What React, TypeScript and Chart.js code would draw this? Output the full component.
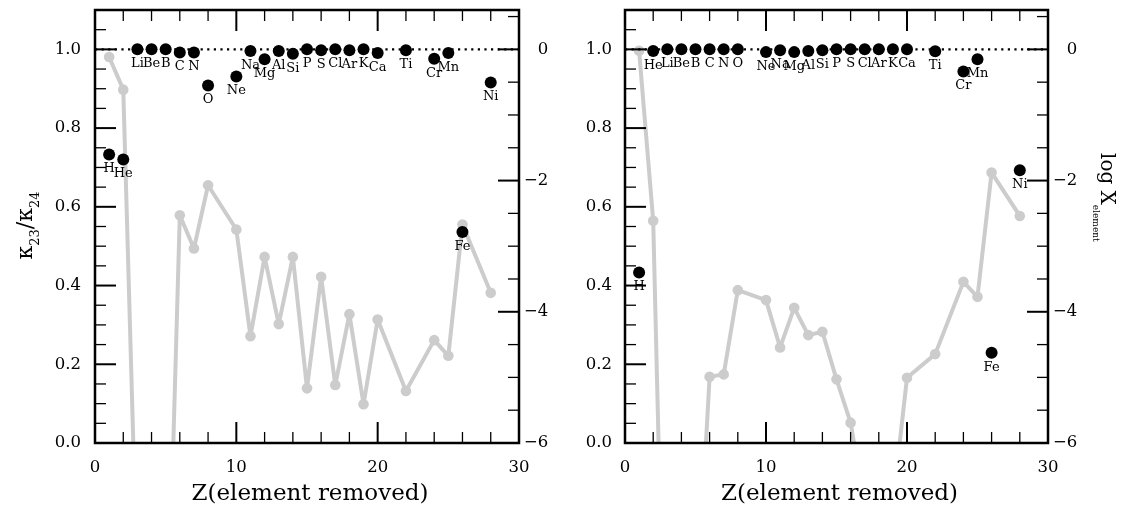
import React, { useEffect, useRef } from 'react';
import { Chart, registerables } from 'chart.js';
Chart.register(...registerables);

// ---------- data ----------
const elementNames = ['H','He','Li','Be','B','C','N','O','Ne','Na','Mg','Al','Si','P','S','Cl','Ar','K','Ca','Ti','Cr','Mn','Fe','Ni'];
const elementZ = [1,2,3,4,5,6,7,8,10,11,12,13,14,15,16,17,18,19,20,22,24,25,26,28];

// kappa_23 / kappa_24 (left axis), black dots
const kappaLeft = [0.733,0.720,1.0,1.0,1.0,0.992,0.992,0.908,0.931,0.996,0.975,0.996,0.989,1.0,0.998,1.0,0.998,1.0,0.991,0.998,0.976,0.991,0.536,0.916];
const kappaRight = [0.433,0.996,1.0,1.0,1.0,1.0,1.0,1.0,0.993,0.998,0.993,0.996,0.998,1.0,1.0,1.0,1.0,1.0,1.0,0.995,0.944,0.975,0.229,0.693];

// log X_element (right axis), grey line
const logXLeft = [-0.117,-0.614,-8.2,-9.5,-10.1,-2.528,-3.035,-2.071,-2.746,-4.371,-3.163,-4.188,-3.163,-5.167,-3.467,-5.117,-4.036,-5.41,-4.117,-5.208,-4.432,-4.671,-2.670,-3.711];
const logXRight = [-0.02,-2.614,-11.5,-10.0,-8.9,-4.99,-4.954,-3.670,-3.822,-4.543,-3.94,-4.355,-4.305,-5.03,-5.69,-6.98,-7.5,-6.92,-5.005,-4.645,-3.544,-3.772,-1.878,-2.539];

// axes
const xRange = [0, 30];
const xMajorTicks = [0, 10, 20, 30];
const xMinorStep = 2;
const kappaRange = [0, 1.1];
const kappaMajorTicks = [0, 0.2, 0.4, 0.6, 0.8, 1.0];
const kappaMinorStep = 0.05;
const logXRange = [-6, 0.6];
const logXMajorTicks = [-6, -4, -2, 0];
const logXTickLabels = ['\u22126', '\u22124', '\u22122', '0'];
const logXMinorStep = 0.5;
const referenceLevel = 1.0;

const FONT = '"DejaVu Serif", serif';
const TICK_SIZE = 16.5;
const MAJOR_LEN = 21;
const MINOR_LEN = 11;

function minorList(min: number, max: number, step: number) {
  const out: number[] = [];
  const n = Math.round((max - min) / step);
  for (let i = 0; i <= n; i++) out.push(+(min + i * step).toFixed(6));
  return out;
}

const decorPlugin = {
  id: 'decor',
  afterDatasetsDraw(chart: any) {
    const { ctx, chartArea: a, scales } = chart;
    const o = chart.options.plugins.decor;
    ctx.save();
    ctx.strokeStyle = '#000';
    const line = (x1: number, y1: number, x2: number, y2: number, w: number) => {
      ctx.lineWidth = w;
      ctx.beginPath();
      ctx.moveTo(x1, y1);
      ctx.lineTo(x2, y2);
      ctx.stroke();
    };
    const isMajor = (v: number, majors: number[]) => majors.some((m) => Math.abs(m - v) < 1e-6);
    // x ticks (bottom & top)
    minorList(xRange[0], xRange[1], xMinorStep).forEach((v) => {
      const major = isMajor(v, xMajorTicks);
      const L = major ? MAJOR_LEN : MINOR_LEN;
      const w = major ? 2 : 1.3;
      const x = scales.x.getPixelForValue(v);
      line(x, a.bottom, x, a.bottom - L, w);
      line(x, a.top, x, a.top + L, w);
    });
    // left ticks (kappa)
    minorList(kappaRange[0], kappaRange[1], kappaMinorStep).forEach((v) => {
      const major = isMajor(v, kappaMajorTicks);
      const L = major ? MAJOR_LEN : MINOR_LEN;
      const w = major ? 2 : 1.3;
      const y = scales.y.getPixelForValue(v);
      line(a.left, y, a.left + L, y, w);
    });
    // right ticks (log X)
    minorList(logXRange[0], logXRange[1], logXMinorStep).forEach((v) => {
      const major = isMajor(v, logXMajorTicks);
      const L = major ? MAJOR_LEN : MINOR_LEN;
      const w = major ? 2 : 1.3;
      const y = scales.y2.getPixelForValue(v);
      line(a.right, y, a.right - L, y, w);
    });
    // frame
    ctx.lineWidth = 2.5;
    ctx.strokeRect(a.left, a.top, a.right - a.left, a.bottom - a.top);

    ctx.fillStyle = '#000';
    // right tick labels (right-aligned like the original)
    ctx.font = `${TICK_SIZE}px ${FONT}`;
    ctx.textBaseline = 'middle';
    ctx.textAlign = 'right';
    let widest = 0;
    logXTickLabels.forEach((t) => { widest = Math.max(widest, ctx.measureText(t).width); });
    logXMajorTicks.forEach((v, i) => {
      ctx.fillText(logXTickLabels[i], a.right + 5 + widest, scales.y2.getPixelForValue(v));
    });

    // element labels
    ctx.font = `13px ${FONT}`;
    ctx.textAlign = 'center';
    ctx.textBaseline = 'top';
    const kap: number[] = o.kappa;
    elementNames.forEach((name, i) => {
      const x = scales.x.getPixelForValue(elementZ[i]);
      const y = scales.y.getPixelForValue(kap[i]);
      ctx.fillText(name, x, y + 8);
    });

    // x title
    ctx.font = `23px ${FONT}`;
    ctx.textBaseline = 'alphabetic';
    ctx.fillText('Z(element removed)', (a.left + a.right) / 2 + 3, 500);

    // left title: kappa_23 / kappa_24
    if (o.leftTitle) {
      const big = `22px ${FONT}`;
      const small = `13px ${FONT}`;
      const parts: [string, string, number][] = [
        ['\u03BA', big, 0], ['23', small, 7], ['/', big, 0], ['\u03BA', big, 0], ['24', small, 7],
      ];
      let total = 0;
      parts.forEach(([t, f]) => { ctx.font = f; total += ctx.measureText(t).width; });
      ctx.save();
      ctx.translate(32, (a.top + a.bottom) / 2 - 1);
      ctx.rotate(-Math.PI / 2);
      ctx.textAlign = 'left';
      ctx.textBaseline = 'alphabetic';
      let cx = -total / 2;
      parts.forEach(([t, f, dy]) => {
        ctx.font = f;
        ctx.fillText(t, cx, dy);
        cx += ctx.measureText(t).width;
      });
      ctx.restore();
    }
    // right title: log X_element
    if (o.rightTitle) {
      ctx.save();
      ctx.translate(a.right + 53, 153);
      ctx.rotate(Math.PI / 2);
      ctx.textAlign = 'left';
      ctx.textBaseline = 'alphabetic';
      ctx.font = `20px ${FONT}`;
      ctx.fillText('log X', 0, 0);
      const w = ctx.measureText('log X').width;
      ctx.font = `9px ${FONT}`;
      ctx.fillText('element', w, 8);
      ctx.restore();
    }
    ctx.restore();
  },
};

type PanelProps = {
  kappa: number[];
  logX: number[];
  leftWidth: number;
  rightWidth: number;
  leftTitle: boolean;
  rightTitle: boolean;
  leftPad: number;
};

function Panel(p: PanelProps) {
  const ref = useRef<HTMLCanvasElement>(null);
  useEffect(() => {
    const canvas = ref.current!;
    const tickFont = { family: FONT, size: TICK_SIZE };
    const chart = new Chart(canvas, {
      type: 'scatter',
      data: {
        datasets: [
          {
            label: 'kappa',
            data: elementZ.map((z, i) => ({ x: z, y: p.kappa[i] })),
            yAxisID: 'y',
            backgroundColor: '#000',
            borderColor: '#000',
            pointRadius: 6,
            pointBorderWidth: 0,
            showLine: false,
            order: 0,
          } as any,
          {
            label: 'ref',
            type: 'line',
            data: [{ x: xRange[0], y: referenceLevel }, { x: xRange[1], y: referenceLevel }],
            yAxisID: 'y',
            borderColor: '#000',
            borderWidth: 2.2,
            borderDash: [2.2, 4.4],
            borderCapStyle: 'butt',
            pointRadius: 0,
            order: 1,
          } as any,
          {
            label: 'logX',
            type: 'line',
            data: elementZ.map((z, i) => ({ x: z, y: p.logX[i] })),
            yAxisID: 'y2',
            borderColor: '#cccccc',
            backgroundColor: '#cccccc',
            borderWidth: 4,
            borderJoinStyle: 'round',
            borderCapStyle: 'round',
            pointRadius: 5.3,
            pointBorderWidth: 0,
            tension: 0,
            clip: 0,
            order: 2,
          } as any,
        ],
      },
      options: {
        animation: false,
        responsive: false,
        devicePixelRatio: 1,
        layout: { padding: { top: 10, bottom: 0, left: 0, right: 0 }, autoPadding: false } as any,
        plugins: {
          legend: { display: false },
          tooltip: { enabled: false },
          decor: { kappa: p.kappa, leftTitle: p.leftTitle, rightTitle: p.rightTitle },
        } as any,
        scales: {
          x: {
            type: 'linear',
            position: 'bottom',
            min: xRange[0],
            max: xRange[1],
            grid: { display: false, drawTicks: false },
            border: { display: false },
            ticks: { font: tickFont, color: '#000', padding: 15, maxRotation: 0 },
            afterBuildTicks: (s: any) => { s.ticks = xMajorTicks.map((v) => ({ value: v })); },
            afterFit: (s: any) => { s.height = 63; s.paddingLeft = 0; s.paddingRight = 0; },
          },
          y: {
            type: 'linear',
            position: 'left',
            min: kappaRange[0],
            max: kappaRange[1],
            grid: { display: false, drawTicks: false },
            border: { display: false },
            ticks: { font: tickFont, color: '#000', padding: p.leftPad, callback: (v: any) => Number(v).toFixed(1) },
            afterBuildTicks: (s: any) => { s.ticks = kappaMajorTicks.map((v) => ({ value: v })); },
            afterFit: (s: any) => { s.width = p.leftWidth; s.paddingTop = 0; s.paddingBottom = 0; },
          },
          y2: {
            type: 'linear',
            position: 'right',
            min: logXRange[0],
            max: logXRange[1],
            grid: { display: false, drawTicks: false },
            border: { display: false },
            ticks: { display: false },
            afterBuildTicks: (s: any) => { s.ticks = logXMajorTicks.map((v) => ({ value: v })); },
            afterFit: (s: any) => { s.width = p.rightWidth; s.paddingTop = 0; s.paddingBottom = 0; },
          },
        } as any,
      },
      plugins: [decorPlugin],
    });
    return () => chart.destroy();
  }, []);
  return <canvas ref={ref} width={563} height={506} style={{ width: 563, height: 506, display: 'block' }} />;
}

export default function App() {
  return (
    <div style={{ position: 'absolute', left: 0, top: 0, width: 1126, height: 506, background: '#fff', display: 'flex' }}>
      <Panel kappa={kappaLeft} logX={logXLeft} leftWidth={95} rightWidth={44} leftTitle={true} rightTitle={false} leftPad={14} />
      <Panel kappa={kappaRight} logX={logXRight} leftWidth={62} rightWidth={78} leftTitle={false} rightTitle={true} leftPad={13} />
    </div>
  );
}
